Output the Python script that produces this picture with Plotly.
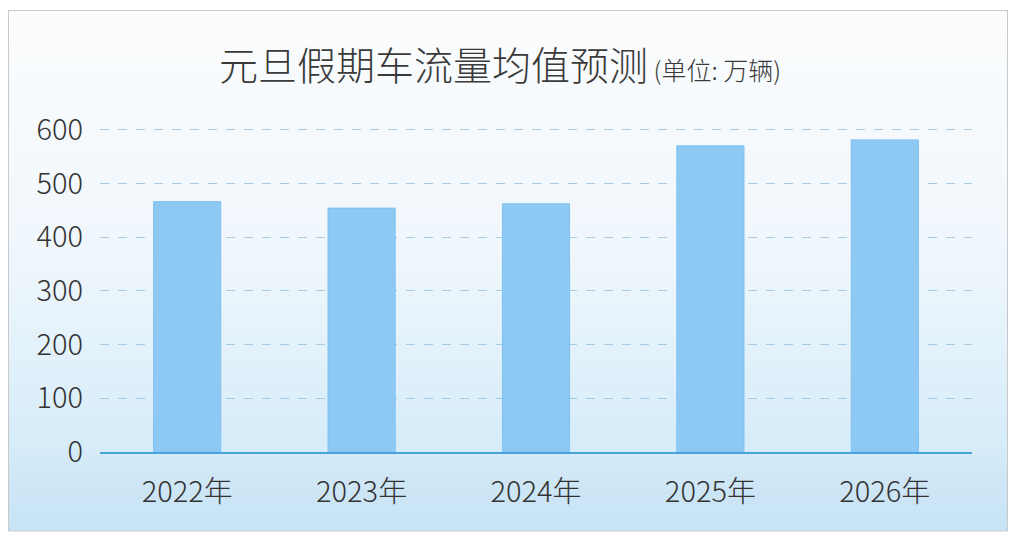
import plotly.graph_objects as go
import base64

categories = ["2022年", "2023年", "2024年", "2025年", "2026年"]
values = [466, 454, 462, 570, 581]
y_ticks = [0, 100, 200, 300, 400, 500, 600]

# page has an 8px body margin; figure pixel = page pixel - 8
OFF = 8
W, H = 1018 - 2 * OFF, 542 - 2 * OFF
L, R, T, B = 100 - OFF, 972 - OFF, 127.3 - OFF, 452 - OFF  # plot area in figure px
T = round(T)

def px_x(p):
    return (p - OFF - L) / (R - L)

def px_y(p):
    return (B - (p - OFF)) / (B - T)

svg = """<svg xmlns='http://www.w3.org/2000/svg' width='100' height='100' preserveAspectRatio='none'>
<defs><linearGradient id='g' x1='0' y1='0' x2='0' y2='1'>
<stop offset='0' stop-color='#fbfcfd'/>
<stop offset='0.45' stop-color='#f0f7fc'/>
<stop offset='0.84' stop-color='#d6ecf9'/>
<stop offset='0.9' stop-color='#cfe6f5'/>
<stop offset='1' stop-color='#c6e4f7'/>
</linearGradient></defs>
<rect width='100' height='100' fill='url(#g)'/></svg>"""
src = "data:image/svg+xml;base64," + base64.b64encode(svg.encode()).decode()

FONT = "Noto Sans CJK SC"

fig = go.Figure()
fig.add_trace(go.Bar(
    x=categories, y=values,
    marker=dict(color="#8ec9f3", line=dict(color="#7fc0ef", width=1)),
    hoverinfo="x+y",
))

fig.update_layout(
    width=W, height=H,
    margin=dict(l=L, r=W - R, t=T, b=H - B),
    paper_bgcolor="white",
    plot_bgcolor="rgba(0,0,0,0)",
    bargap=0.615,
    showlegend=False,
    font=dict(family=FONT, color="#333333"),
    images=[dict(
        source=src, xref="paper", yref="paper",
        x=px_x(9), y=px_y(11),
        sizex=px_x(1007) - px_x(9), sizey=px_y(11) - px_y(531),
        xanchor="left", yanchor="top", sizing="stretch", layer="below",
    )],
    shapes=[dict(
        type="rect", xref="paper", yref="paper",
        x0=px_x(8.5), x1=px_x(1007.5), y0=px_y(531), y1=px_y(10.5),
        line=dict(color="#c9c9c9", width=1), fillcolor="rgba(0,0,0,0)",
        layer="above",
    )],
    annotations=[dict(
        text="元旦假期车流量均值预测<span style='font-size:25px'> (单位: 万辆)</span>",
        xref="paper", yref="paper", x=px_x(500), y=px_y(63),
        xanchor="center", yanchor="middle", showarrow=False,
        font=dict(family=FONT, size=39, color="#3a3a3a", weight=300),
    )],
)

fig.update_xaxes(
    showline=True, linecolor="#4aa2dc", linewidth=2,
    showgrid=False, ticks="", ticklabelstandoff=13,
    tickfont=dict(family=FONT, size=29, color="#333333", weight=300),
)
fig.update_yaxes(
    range=[0, 605], tickvals=y_ticks,
    showgrid=True, gridcolor="#a6cbe4", griddash="dash", gridwidth=1,
    zeroline=False, showline=False, ticks="", ticklabelstandoff=16,
    tickfont=dict(family=FONT, size=29, color="#333333", weight=300),
)

fig.write_html("out.html")
